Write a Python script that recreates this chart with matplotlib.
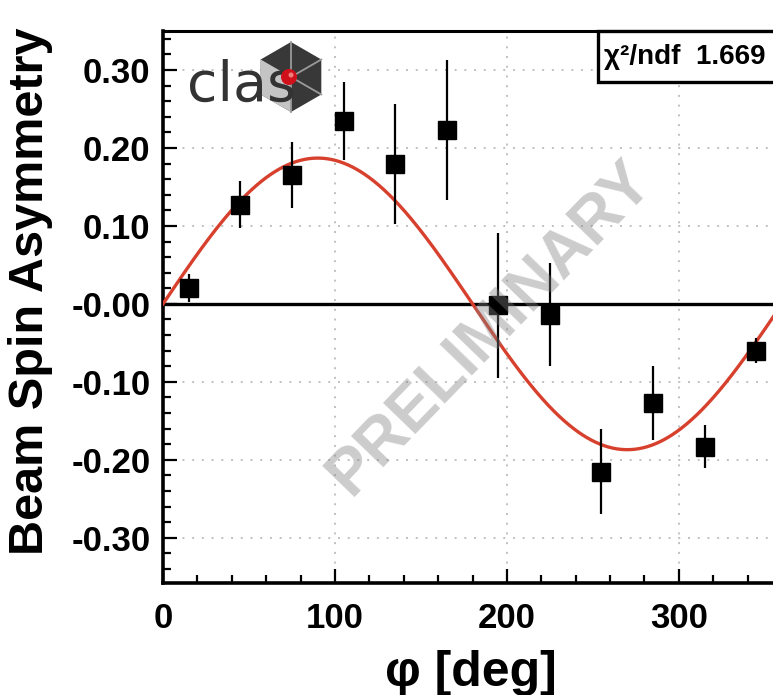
import numpy as np
import matplotlib
matplotlib.use("Agg")
import matplotlib.pyplot as plt
from matplotlib.patches import Polygon, Circle, Rectangle
from matplotlib.ticker import MultipleLocator, FixedLocator

plt.rcParams['font.family'] = ['Liberation Sans', 'DejaVu Sans']

# Beam spin asymmetry vs phi (12 bins of 30 deg)
phi = [15, 45, 75, 105, 135, 165, 195, 225, 255, 285, 315, 345]
bsa = [0.020, 0.127, 0.165, 0.235, 0.180, 0.223, -0.002, -0.014, -0.215, -0.127, -0.183, -0.060]
bsa_err = [0.018, 0.030, 0.042, 0.050, 0.077, 0.090, 0.093, 0.066, 0.055, 0.047, 0.028, 0.016]

# Fit A*sin(phi)
fit_amp = 0.187
chi2_ndf = 1.669

x_ticks = [0, 100, 200, 300]
y_ticks = [0.30, 0.20, 0.10, 0.00, -0.10, -0.20, -0.30]
y_tick_labels = ["0.30", "0.20", "0.10", "-0.00", "-0.10", "-0.20", "-0.30"]

W, H = 773, 695
fig = plt.figure(figsize=(W / 100, H / 100), dpi=100)
ax = fig.add_axes([163 / W, 112 / H, 619 / W, 552 / H])
ax.set_xlim(0, 360)
ax.set_ylim(-0.358, 0.35)

# grid
for xv in x_ticks[1:]:
    ax.axvline(xv, color='#c0c0c0', lw=1.4, ls=(0, (1, 4)), zorder=1)
for yv in y_ticks:
    if yv != 0:
        ax.axhline(yv, color='#c0c0c0', lw=1.4, ls=(0, (1, 4)), zorder=1)

ax.axhline(0, color='black', lw=2.4, zorder=2)

# fit curve
xf = np.linspace(0, 360, 721)
ax.plot(xf, fit_amp * np.sin(np.radians(xf)), color='#d8402e', lw=2.4, zorder=3)

# data points
ax.errorbar(phi, bsa, yerr=bsa_err, fmt='s', color='black', ms=12.5,
            elinewidth=1.6, capsize=0, zorder=4)

# axes styling
ax.xaxis.set_major_locator(FixedLocator(x_ticks))
ax.xaxis.set_minor_locator(MultipleLocator(20))
ax.yaxis.set_major_locator(FixedLocator(y_ticks))
ax.yaxis.set_minor_locator(MultipleLocator(0.02))
ax.set_yticklabels(y_tick_labels)
ax.tick_params(which='both', direction='in', top=False, right=False, width=1.6,
               labelsize=25)
ax.tick_params(which='major', length=10)
ax.tick_params(which='minor', length=6)
ax.tick_params(axis='y', pad=9)
ax.tick_params(axis='x', pad=14)
for lab in ax.get_xticklabels() + ax.get_yticklabels():
    lab.set_fontweight('bold')
for s in ['left', 'bottom']:
    ax.spines[s].set_linewidth(2.6)
ax.spines['top'].set_linewidth(2.2)
ax.spines['right'].set_visible(False)

ax.set_ylabel('Beam Spin Asymmetry', fontsize=35, fontweight='bold')
ax.yaxis.set_label_coords(-0.178, 0.528)
ax.set_xlabel('φ [deg]', fontsize=36, fontweight='bold')
ax.xaxis.set_label_coords(0.497, -0.122)

# fit statistics box
ax.add_patch(Rectangle((0.702, 0.908), 0.35, 0.092, transform=ax.transAxes,
                       fill=True, facecolor='white', edgecolor='black', lw=2.4,
                       clip_on=False, zorder=6))
ax.text(0.712, 0.953, f'χ²/ndf  {chi2_ndf:.3f}', transform=ax.transAxes, fontsize=20,
        fontweight='bold', va='center', ha='left', zorder=7)

# overlay in pixel coordinates for logo and watermark
ov = fig.add_axes([0, 0, 1, 1])
ov.set_xlim(0, W)
ov.set_ylim(H, 0)
ov.axis('off')
ov.patch.set_alpha(0)

# CLAS logo
cx, cy, r = 291, 77, 35
ang = np.radians([90, 30, -30, -90, -150, 150])
verts = [(cx + r * np.cos(a), cy - r * np.sin(a)) for a in ang]
ov.add_patch(Polygon(verts, closed=True, facecolor='#383838', edgecolor='none', zorder=1))
ov.add_patch(Polygon([verts[4], verts[5], (cx, cy), verts[3]], closed=True,
                     facecolor='#c4c4c4', edgecolor='none', zorder=1))
for v in [verts[0], verts[1], verts[2], verts[3]]:
    ov.plot([cx, v[0]], [cy, v[1]], color='#9a9a9a', lw=1.3, zorder=2)
ov.text(187, 101, 'clas', fontsize=40, color='#333333', family='DejaVu Sans',
        ha='left', va='baseline', zorder=3)
ov.add_patch(Circle((cx - 2, cy), 8, facecolor='#d0101a', edgecolor='none', zorder=4))
ov.add_patch(Circle((cx, cy - 2), 2.5, facecolor='#f08080', edgecolor='none', zorder=5))

# watermark
ov.text(490, 328, 'PRELIMINARY', fontsize=46, fontweight='bold', color='#808080',
        alpha=0.4, rotation=46, ha='center', va='center', zorder=10)

fig.savefig('out.png', dpi=100)
